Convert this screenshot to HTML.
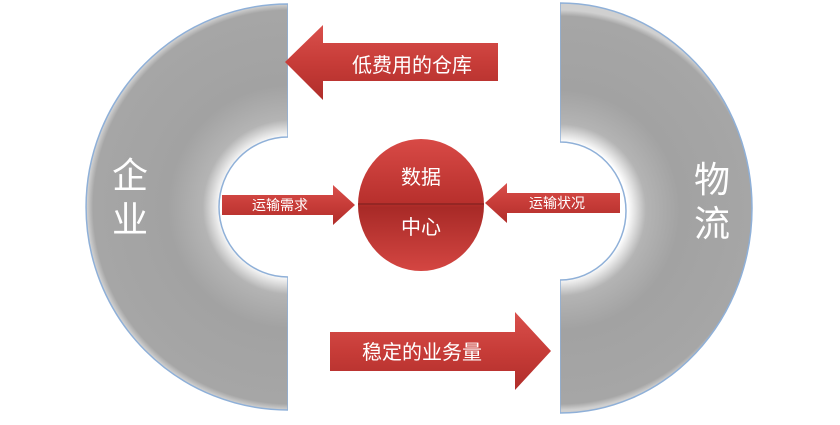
<!DOCTYPE html>
<html><head><meta charset="utf-8"><style>
body{margin:0;background:#fff;width:840px;height:420px;overflow:hidden}
text{font-family:"Liberation Sans","Noto Sans CJK SC",sans-serif;fill:#fff}
</style></head><body>
<svg width="840" height="420" viewBox="0 0 840 420">
<defs>
<radialGradient id="gl" cx="290" cy="207" r="203" gradientUnits="userSpaceOnUse">
<stop offset="0.34" stop-color="#fff"/><stop offset="0.43" stop-color="#b4b4b4"/><stop offset="0.6" stop-color="#a2a2a2"/><stop offset="0.97" stop-color="#a6a6a6"/><stop offset="1" stop-color="#d0d0d0"/></radialGradient>
<radialGradient id="gr" cx="560" cy="210" r="200" gradientUnits="userSpaceOnUse">
<stop offset="0.34" stop-color="#fff"/><stop offset="0.43" stop-color="#b4b4b4"/><stop offset="0.6" stop-color="#a2a2a2"/><stop offset="0.97" stop-color="#a6a6a6"/><stop offset="1" stop-color="#d0d0d0"/></radialGradient>
<linearGradient id="red" x1="0" y1="0" x2="0" y2="1"><stop offset="0" stop-color="#d9504c"/><stop offset="0.5" stop-color="#c73c38"/><stop offset="1" stop-color="#b02d2a"/></linearGradient>
<linearGradient id="circ" x1="0" y1="0" x2="0" y2="1"><stop offset="0" stop-color="#d84a46"/><stop offset="0.48" stop-color="#b8302d"/><stop offset="0.52" stop-color="#a82a27"/><stop offset="1" stop-color="#d44642"/></linearGradient>
</defs>
<path d="M288,4 A202,203 0 0 0 288,410 L288,277 A69,70 0 0 1 288,137 Z" fill="url(#gl)" stroke="#8fb0d8" stroke-width="1.5"/>
<path d="M560,3 A192,205 0 0 1 560,413 L560,280 A66,69 0 0 0 560,142 Z" fill="url(#gr)" stroke="#8fb0d8" stroke-width="1.5"/>
<rect x="288" y="0" width="272" height="420" fill="#fff"/>
<path d="M285,62 L323,25 L323,43 L498,43 L498,81 L323,81 L323,100 Z" fill="url(#red)"/>
<text x="412" y="72" font-size="20" text-anchor="middle">低费用的仓库</text>
<path d="M330,332 L515,332 L515,312 L551,351 L515,390 L515,371 L330,371 Z" fill="url(#red)"/>
<text x="422" y="359" font-size="20" text-anchor="middle">稳定的业务量</text>
<path d="M222,195 L333,195 L333,185 L355,205 L333,225 L333,215 L222,215 Z" fill="url(#red)"/>
<text x="280" y="210" font-size="14" text-anchor="middle">运输需求</text>
<path d="M620,193 L507,193 L507,183 L485,203 L507,223 L507,213 L620,213 Z" fill="url(#red)"/>
<text x="557" y="208" font-size="14" text-anchor="middle">运输状况</text>
<ellipse cx="421" cy="205" rx="63" ry="66" fill="url(#circ)"/>
<line x1="358" y1="204" x2="484" y2="204" stroke="#8a2422" stroke-width="1.5"/>
<text x="421" y="184" font-size="20" text-anchor="middle">数据</text>
<text x="421" y="234" font-size="20" text-anchor="middle">中心</text>
<text x="130" y="188" font-size="36" text-anchor="middle">企</text>
<text x="130" y="232" font-size="36" text-anchor="middle">业</text>
<text x="712" y="192" font-size="36" text-anchor="middle">物</text>
<text x="712" y="236" font-size="36" text-anchor="middle">流</text>
</svg>
</body></html>
